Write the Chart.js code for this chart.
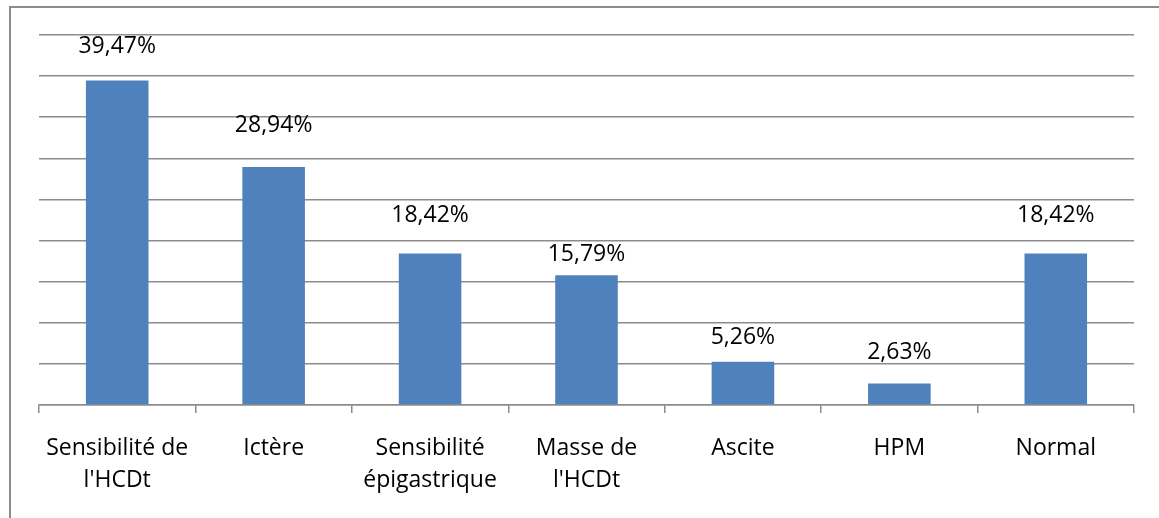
<!DOCTYPE html>
<html lang="fr">
<head>
<meta charset="utf-8">
<title>Signes cliniques</title>
<script src="https://cdn.jsdelivr.net/npm/chart.js@4/dist/chart.umd.min.js"></script>
<style>
  html, body { margin: 0; padding: 0; background: #ffffff; overflow: hidden; }
  #wrap { position: relative; width: 1159px; height: 518px; }
  #frame {
    position: absolute; left: 9px; top: 6px; width: 1160px; height: 520px;
    border-left: 2px solid #8c8c8c; border-top: 2px solid #8c8c8c;
    box-sizing: border-box; pointer-events: none;
  }
  canvas { position: absolute; left: 0; top: 0; }
</style>
</head>
<body>
<div id="wrap">
  <canvas id="chart" width="1159" height="518"></canvas>
  <div id="frame"></div>
</div>
<script>
// Signes cliniques retrouvés (pourcentage des patients)
const categories = [
  ["Sensibilité de", "l'HCDt"],
  "Ictère",
  ["Sensibilité", "épigastrique"],
  ["Masse de", "l'HCDt"],
  "Ascite",
  "HPM",
  "Normal"
];
const percentages = [39.47, 28.94, 18.42, 15.79, 5.26, 2.63, 18.42];
const yTicks = [0, 5, 10, 15, 20, 25, 30, 35, 40, 45];

// Distance (px) between each bar top and the centre of its value label
const labelLift = [34.5, 42, 38, 20.5, 24, 31, 38];

const FONT = "'Open Sans', 'Noto Sans', sans-serif";
const frPercent = v => v.toFixed(2).replace('.', ',') + '%';

const valueLabels = {
  id: 'valueLabels',
  afterDatasetsDraw(chart) {
    const ctx = chart.ctx;
    const meta = chart.getDatasetMeta(0);
    ctx.save();
    ctx.font = '23px ' + FONT;
    ctx.fillStyle = '#000000';
    ctx.textAlign = 'center';
    ctx.textBaseline = 'middle';
    meta.data.forEach((bar, i) => {
      const v = chart.data.datasets[0].data[i];
      ctx.fillText(frPercent(v), bar.x, bar.y - labelLift[i]);
    });
    ctx.restore();
  }
};

new Chart(document.getElementById('chart'), {
  type: 'bar',
  data: {
    labels: categories,
    datasets: [{
      data: percentages,
      backgroundColor: '#4F81BD',
      borderWidth: 0,
      barPercentage: 0.4,
      categoryPercentage: 1.0
    }]
  },
  options: {
    responsive: false,
    animation: false,
    devicePixelRatio: 1,
    layout: { padding: { left: 39, right: 25, top: 35, bottom: 0 } },
    plugins: { legend: { display: false }, tooltip: { enabled: false } },
    scales: {
      x: {
        offset: true,
        grid: {
          offset: true,
          drawOnChartArea: false,
          drawTicks: true,
          tickLength: 8,
          color: '#8c8c8c',
          lineWidth: 1.5
        },
        border: { display: true, color: '#8c8c8c', width: 1.5 },
        ticks: {
          color: '#000000',
          padding: 19,
          maxRotation: 0,
          autoSkip: false,
          font: { family: FONT, size: 23, lineHeight: 32 / 23 }
        },
        afterFit(scale) { scale.height = 113; }
      },
      y: {
        min: 0,
        max: 45,
        afterBuildTicks(scale) { scale.ticks = yTicks.map(v => ({ value: v })); },
        ticks: { display: false },
        grid: { color: '#8c8c8c', lineWidth: 1.5, drawTicks: false },
        border: { display: false },
        afterFit(scale) { scale.width = 0; }
      }
    }
  },
  plugins: [valueLabels]
});
</script>
</body>
</html>
